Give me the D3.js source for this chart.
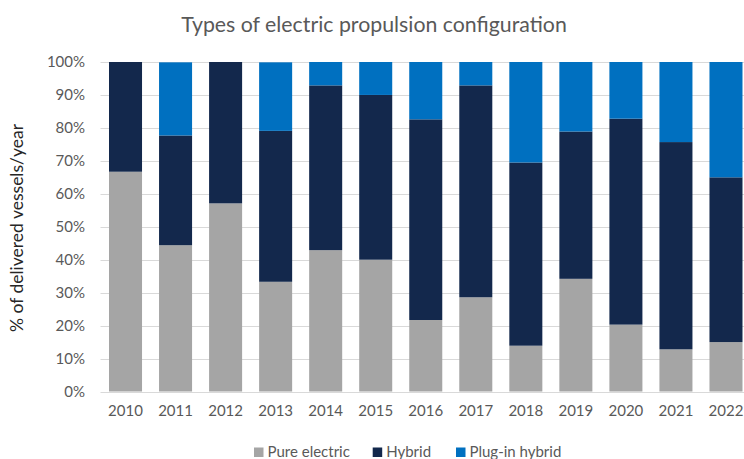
<!DOCTYPE html>
<html>
<head>
<meta charset="utf-8">
<script src="https://cdn.jsdelivr.net/npm/d3@7"></script>
<style>
  html, body { margin: 0; padding: 0; background: #fff; }
  svg { display: block; font-family: Lato, "Open Sans", sans-serif; }
</style>
</head>
<body>
<svg id="chart" width="744" height="459"></svg>
<script>
// Share of delivered electric vessels per year, by propulsion type (%)
const years = ["2010","2011","2012","2013","2014","2015","2016","2017","2018","2019","2020","2021","2022"];
const pureElectric = [66.7, 44.4, 57.1, 33.3, 42.9, 40.0, 21.7, 28.6, 13.9, 34.2, 20.3, 12.8, 15.0];
const hybrid       = [33.3, 33.3, 42.9, 45.8, 50.0, 50.0, 60.9, 64.3, 55.6, 44.7, 62.5, 62.9, 50.0];
const plugIn       = [ 0.0, 22.2,  0.0, 20.8,  7.1, 10.0, 17.4,  7.1, 30.6, 21.1, 17.2, 24.3, 35.0];
const seriesNames  = ["Pure electric", "Hybrid", "Plug-in hybrid"];
const seriesColors = ["#a5a5a5", "#13284c", "#0070c0"];
const yTicks = [0, 10, 20, 30, 40, 50, 60, 70, 80, 90, 100];

const svg = d3.select("#chart");
const plot = { left: 100.5, right: 751, top: 62, bottom: 391.5 };

const rows = years.map((y, i) => ({
  year: y,
  "Pure electric": pureElectric[i],
  "Hybrid": hybrid[i],
  "Plug-in hybrid": plugIn[i]
}));
const stacked = d3.stack().keys(seriesNames)(rows);

const x = d3.scaleBand().domain(years)
  .range([plot.left, plot.right])
  .paddingInner(0.34).paddingOuter(0.17);
const y = d3.scaleLinear().domain([0, 100]).range([plot.bottom, plot.top]);

// horizontal gridlines
svg.append("g").selectAll("line").data(yTicks).join("line")
  .attr("x1", plot.left).attr("x2", 744)
  .attr("y1", d => Math.round(y(d)) + 0.5).attr("y2", d => Math.round(y(d)) + 0.5)
  .attr("stroke", "#d9d9d9").attr("stroke-width", 1);

// stacked bars
svg.append("g").selectAll("g").data(stacked).join("g")
  .attr("fill", (d, i) => seriesColors[i])
  .selectAll("rect").data(d => d).join("rect")
  .attr("x", d => x(d.data.year))
  .attr("width", x.bandwidth())
  .attr("y", d => y(Math.min(100, d[1])))
  .attr("height", d => Math.max(0, y(d[0]) - y(Math.min(100, d[1]))));

// y axis labels
const yAxis = d3.axisLeft(y).tickValues(yTicks).tickFormat(d => d + "%").tickSize(0).tickPadding(15.5);
const gy = svg.append("g").attr("transform", `translate(${plot.left},0)`).call(yAxis);
gy.select(".domain").remove();
gy.selectAll("text").attr("fill", "#595959").style("font-size", "15px")
  .style("font-family", "Lato, sans-serif");

// x axis labels
const xAxis = d3.axisBottom(x).tickSize(0).tickPadding(14);
const gx = svg.append("g").attr("transform", `translate(0,${plot.bottom})`).call(xAxis);
gx.select(".domain").remove();
gx.selectAll("text").attr("fill", "#595959").style("font-size", "15px")
  .style("font-family", "Lato, sans-serif");

// title
svg.append("text").attr("x", 374).attr("y", 32)
  .attr("text-anchor", "middle").attr("fill", "#595959")
  .style("font-size", "21.3px").text("Types of electric propulsion configuration");

// y axis title
svg.append("text")
  .attr("transform", "translate(23,228) rotate(-90)")
  .attr("text-anchor", "middle").attr("fill", "#262626")
  .style("font-size", "17.5px").text("% of delivered vessels/year");

// legend
const legendX = [254, 372.7, 456];
const lg = svg.append("g").selectAll("g").data(seriesNames).join("g")
  .attr("transform", (d, i) => `translate(${legendX[i]},447.5)`);
lg.append("rect").attr("width", 9.5).attr("height", 9.5)
  .attr("fill", (d, i) => seriesColors[i]);
lg.append("text").attr("x", 13.5).attr("y", 9).attr("fill", "#595959")
  .style("font-size", "15px").text(d => d);
</script>
</body>
</html>
